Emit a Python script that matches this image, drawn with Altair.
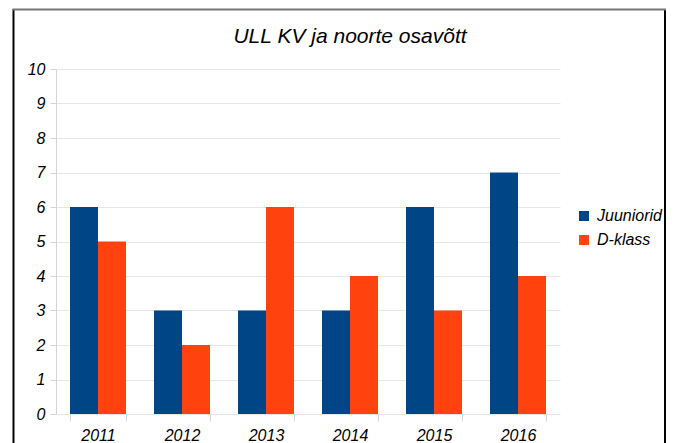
import altair as alt
import pandas as pd

years = ["2011", "2012", "2013", "2014", "2015", "2016"]
series = ["Juuniorid", "D-klass"]
juuniorid = [6, 3, 3, 3, 6, 7]
d_klass = [5, 2, 6, 4, 3, 4]
colors = ["#004586", "#ff420e"]
title_text = "ULL KV ja noorte osavõtt"

rows = []
for i, y in enumerate(years):
    rows.append({"year": y, "series": "Juuniorid", "value": juuniorid[i]})
    rows.append({"year": y, "series": "D-klass", "value": d_klass[i]})
df = pd.DataFrame(rows)
single = pd.DataFrame({"t": [title_text]})

FONT = "Liberation Sans"

bars = alt.Chart(df).mark_bar().encode(
    x=alt.X("year:N", sort=years, title=None,
            scale=alt.Scale(paddingInner=1/3, paddingOuter=1/6),
            axis=alt.Axis(labelAngle=0, tickBand="extent", tickSize=7, labelPadding=6,
                          domain=False, grid=False, tickColor="#d4d4d4",
                          labelFont=FONT, labelFontStyle="italic", labelFontSize=16,
                          labelColor="#000000")),
    xOffset=alt.XOffset("series:N", sort=series, scale=alt.Scale(domain=series, paddingInner=0, paddingOuter=0)),
    y=alt.Y("value:Q", title=None,
            scale=alt.Scale(domain=[0, 10], nice=False),
            axis=alt.Axis(values=list(range(0, 11)), tickSize=6, labelPadding=5,
                          domainColor="#d4d4d4", tickColor="#d4d4d4", gridColor="#e6e6e6",
                          labelFont=FONT, labelFontStyle="italic", labelFontSize=16,
                          labelColor="#000000")),
    color=alt.Color("series:N", sort=series,
                    scale=alt.Scale(domain=series, range=colors),
                    legend=alt.Legend(title=None, orient="none", legendX=520, legendY=139,
                                      symbolType="square", symbolSize=100, symbolStrokeWidth=0,
                                      labelFont=FONT, labelFontStyle="italic", labelFontSize=16,
                                      labelColor="#000000", labelOffset=5, rowPadding=8,
                                      padding=0)),
)

left_edge = alt.Chart(single).mark_rule(color="#000000", strokeWidth=2).encode(
    x=alt.value(-42.5), y=alt.value(-60), y2=alt.value(480)
)
right_edge = alt.Chart(single).mark_rule(color="#000000", strokeWidth=2).encode(
    x=alt.value(609), y=alt.value(-60), y2=alt.value(480)
)
top_edge = alt.Chart(single).mark_rule(color="#777777", strokeWidth=2).encode(
    x=alt.value(-43.5), x2=alt.value(610), y=alt.value(-59.5)
)

title = alt.Chart(single).mark_text(font=FONT, fontSize=21, fontStyle="italic",
                                    fontWeight="normal", color="#000000",
                                    align="center", baseline="alphabetic").encode(
    x=alt.value(294), y=alt.value(-26), text="t:N"
)

chart = alt.layer(left_edge, right_edge, top_edge, bars, title).properties(
    width=504, height=345,
    autosize=alt.AutoSizeParams(type="none"),
    padding={"left": 48, "top": 61, "right": 106, "bottom": 40},
).configure_view(stroke=None)

chart.save("out.html", embed_options={"renderer": "svg", "actions": False})
